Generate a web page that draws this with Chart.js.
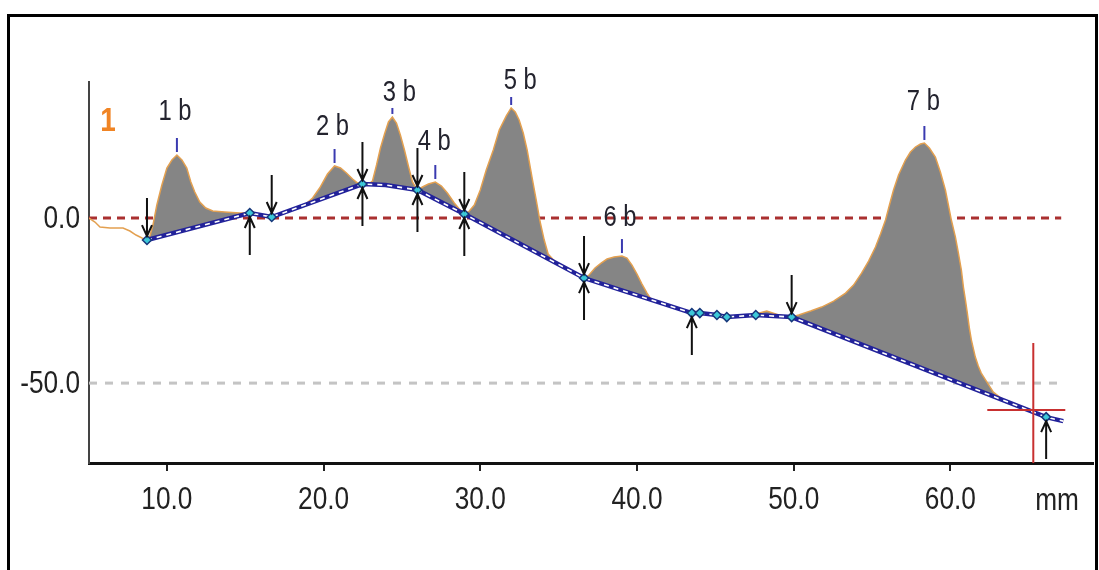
<!DOCTYPE html>
<html><head><meta charset="utf-8">
<script src="https://cdn.jsdelivr.net/npm/chart.js@4.4.1/dist/chart.umd.min.js"></script>
<style>html,body{margin:0;padding:0;background:#fff;}#wrap{width:1099px;height:570px;}</style>
</head><body><div id="wrap"><canvas id="c" width="1099" height="570"></canvas></div>
<script>
// ---- data ----
const xTicks = [10, 20, 30, 40, 50, 60];
const yTicks = [-50, 0];
const xUnit = 'mm';
const seriesName = '1';

const profileX = [5.03,5.41,5.73,6.37,7.20,7.64,8.03,8.41,8.73,8.92,9.11,9.36,9.68,10.0,10.32,10.64,10.96,11.27,11.53,11.78,12.10,12.48,12.93,13.69,14.65,15.29,15.92,16.69,17.83,18.79,19.30,19.75,20.25,20.70,21.08,21.46,21.85,22.17,22.48,22.87,23.12,23.38,23.63,23.89,24.14,24.39,24.65,24.90,25.16,25.41,25.67,25.99,26.31,26.69,27.13,27.52,27.90,28.34,28.66,28.98,29.30,29.62,30.0,30.38,30.83,31.21,31.66,31.97,32.23,32.48,32.74,32.99,33.31,33.57,33.82,34.08,34.33,34.78,35.35,35.99,36.62,36.94,37.32,37.71,38.09,38.54,39.04,39.36,39.68,40.0,40.32,40.64,40.89,41.40,42.04,42.68,43.50,44.59,45.73,46.82,47.58,48.28,49.04,49.87,50.32,51.08,51.78,52.55,53.31,53.82,54.33,54.78,55.22,55.54,55.86,56.11,56.37,56.69,57.13,57.45,57.77,58.09,58.34,58.66,59.04,59.36,59.68,59.87,60.06,60.32,60.51,60.70,60.83,60.96,61.08,61.21,61.34,61.59,61.78,61.97,62.29,62.74,63.38,64.20,64.97,65.61,66.11,66.62,67.20];
const profileY = [0.0,-1.21,-2.73,-3.03,-3.03,-3.94,-5.15,-6.06,-6.67,-5.45,-2.12,3.94,10.0,15.15,17.58,19.09,17.58,15.15,10.91,7.88,4.85,3.03,2.12,1.82,1.52,1.52,1.21,0.30,2.12,3.94,6.06,9.09,13.33,15.76,15.15,13.64,11.82,10.61,10.30,10.30,11.21,16.06,21.21,25.45,29.09,30.61,28.79,25.15,20.61,15.76,10.91,8.48,9.39,10.30,10.91,9.70,7.58,4.55,2.73,1.21,2.12,3.94,8.48,14.55,20.61,26.67,30.91,33.33,32.12,29.70,25.76,20.61,12.12,5.45,-1.21,-6.67,-10.91,-13.33,-14.55,-16.36,-18.18,-17.27,-15.15,-13.64,-12.42,-11.82,-11.52,-12.12,-14.24,-16.97,-20.0,-22.73,-24.55,-25.45,-26.36,-27.58,-28.79,-28.79,-30.0,-29.70,-29.09,-28.18,-29.39,-30.0,-29.39,-28.18,-26.97,-25.15,-22.73,-20.30,-16.67,-13.03,-8.79,-4.85,-0.61,3.94,8.48,13.03,17.58,20.0,21.52,22.42,22.73,21.21,18.48,13.94,8.48,3.94,-0.61,-5.76,-10.61,-15.76,-20.91,-24.85,-28.79,-33.33,-36.97,-42.12,-44.85,-46.97,-49.39,-52.73,-55.15,-56.67,-58.03,-59.24,-60.30,-60.91,-61.52];

const baseX = [8.73,15.29,16.69,22.48,23.95,25.99,28.98,36.62,43.50,44.01,45.10,45.73,47.58,49.87,66.11,67.20];
const baseY = [-6.67,1.52,0.30,10.30,10.0,8.48,1.21,-18.18,-28.79,-28.79,-29.39,-30.0,-29.39,-30.0,-60.30,-61.52];

const markerX = [8.73,15.29,16.69,22.48,25.99,28.98,36.62,43.50,44.01,45.10,45.73,47.58,49.87,66.11];
const markerY = [-6.67,1.52,0.30,10.30,8.48,1.21,-18.18,-28.79,-28.79,-29.39,-30.0,-29.39,-30.0,-60.30];

const arrowDownX = [8.73,16.69,22.48,25.99,28.98,36.62,49.87];
const arrowDownY = [-6.67,0.30,10.30,8.48,1.21,-18.18,-30.0];
const arrowUpX = [15.29,22.48,25.99,28.98,36.62,43.50,66.11];
const arrowUpY = [1.52,10.30,8.48,1.21,-18.18,-28.79,-60.30];

const peakLabels = ['1 b','2 b','3 b','4 b','5 b','6 b','7 b'];
const peakX = [10.64,20.70,24.39,27.13,31.97,39.04,58.34];
const peakY = [19.09,15.76,30.61,10.91,33.33,-11.52,22.73];

const zeroLineX = [5.03, 67.07];
const refLineY = [0, -50];

const cursorX = 65.29;
const cursorY = -58.18;

// ---- chart ----
const FONT = "'Liberation Sans',Arial,sans-serif";
const SX = 0.82;
const pts = (xs, ys) => xs.map((x, i) => ({x, y: ys[i]}));

function narrowText(ctx, text, x, y, size, color, align, weight) {
  ctx.save();
  ctx.font = (weight || 'normal') + ' ' + size + 'px ' + FONT;
  ctx.fillStyle = color;
  ctx.textAlign = align;
  ctx.textBaseline = 'middle';
  ctx.translate(x, y);
  ctx.scale(SX, 1);
  ctx.fillText(text, 0, 0);
  ctx.restore();
}

const overlay = {
  id: 'overlay',
  beforeDraw(chart) {
    const ctx = chart.ctx;
    ctx.save();
    ctx.fillStyle = '#fff';
    ctx.fillRect(0, 0, chart.width, chart.height);
    ctx.strokeStyle = '#000';
    ctx.lineWidth = 3;
    ctx.strokeRect(8.5, 15.5, 1088, 600);
    ctx.restore();
  },
  afterDraw(chart) {
    const ctx = chart.ctx, xs = chart.scales.x, ys = chart.scales.y, a = chart.chartArea;
    xTicks.forEach(v => narrowText(ctx, v.toFixed(1), xs.getPixelForValue(v), a.bottom + 37, 32, '#222', 'center'));
    yTicks.forEach(v => narrowText(ctx, v.toFixed(1), a.left - 9, ys.getPixelForValue(v) + 1, 32, '#222', 'right'));
    narrowText(ctx, xUnit, a.right - 36, a.bottom + 38, 32, '#222', 'center');
  },
  afterDatasetsDraw(chart, args, opts) {
    const ctx = chart.ctx, xs = chart.scales.x, ys = chart.scales.y, a = chart.chartArea;
    ctx.save();
    // arrows
    ctx.strokeStyle = '#111';
    ctx.lineWidth = 2;
    const arrow = (px, py, dir) => {
      const tip = py + dir * 4, tail = py + dir * 42, head = tip + dir * 11;
      ctx.beginPath();
      ctx.moveTo(px, tail); ctx.lineTo(px, tip);
      ctx.moveTo(px - 5, head); ctx.lineTo(px, tip); ctx.lineTo(px + 5, head);
      ctx.stroke();
    };
    arrowDownX.forEach((x, i) => arrow(xs.getPixelForValue(x), ys.getPixelForValue(arrowDownY[i]), -1));
    arrowUpX.forEach((x, i) => arrow(xs.getPixelForValue(x), ys.getPixelForValue(arrowUpY[i]), 1));
    // peak ticks and labels
    peakLabels.forEach((lab, i) => {
      const px = xs.getPixelForValue(peakX[i]), py = ys.getPixelForValue(peakY[i]);
      const o = opts.labelOffsets[i];
      ctx.strokeStyle = '#3a3ab0';
      ctx.lineWidth = 2;
      ctx.beginPath();
      ctx.moveTo(px, py - 3); ctx.lineTo(px, py - 3 - o[2]);
      ctx.stroke();
      narrowText(ctx, lab, px + o[0], py - o[1], 29, '#23232e', 'center');
    });
    // cursor crosshair
    const cx = xs.getPixelForValue(cursorX), cy = ys.getPixelForValue(cursorY);
    ctx.strokeStyle = '#c83030';
    ctx.lineWidth = 2;
    ctx.beginPath();
    ctx.moveTo(cx, cy - 67); ctx.lineTo(cx, a.bottom);
    ctx.moveTo(cx - 46, cy); ctx.lineTo(cx + 32, cy);
    ctx.stroke();
    // series label
    narrowText(ctx, seriesName, a.left + 19, a.top + 40, 34, '#f08424', 'center', 'bold');
    ctx.restore();
  }
};

new Chart(document.getElementById('c'), {
  type: 'line',
  data: {
    datasets: [
      { data: pts(baseX, baseY), borderColor: '#22229a', borderWidth: 4.5, pointRadius: 0, tension: 0, order: 3, fill: false },
      { data: pts(profileX, profileY), borderColor: '#e3a050', borderWidth: 1.5, pointRadius: 0, tension: 0, order: 5,
        fill: { target: 0, above: '#858585', below: 'rgba(0,0,0,0)' } },
      { data: pts(baseX, baseY), borderColor: '#ffffff', borderWidth: 1.6, borderDash: [5, 5], pointRadius: 0, tension: 0, order: 2, fill: false },
      { type: 'scatter', data: pts(markerX, markerY), pointStyle: 'rectRot', pointRadius: 4.5, pointBackgroundColor: '#3cc8d8', pointBorderColor: '#16367a', pointBorderWidth: 1.5, showLine: false, order: 1 },
      { data: pts(zeroLineX, [refLineY[0], refLineY[0]]), borderColor: '#aa3030', borderWidth: 3, borderDash: [8, 6], pointRadius: 0, order: 10, fill: false },
      { data: pts(zeroLineX, [refLineY[1], refLineY[1]]), borderColor: '#c4c4c4', borderWidth: 3, borderDash: [8, 8], pointRadius: 0, order: 10, fill: false }
    ]
  },
  options: {
    responsive: false,
    animation: false,
    devicePixelRatio: 1,
    layout: { padding: { top: 82, right: 4, left: 0, bottom: 0 } },
    plugins: {
      legend: { display: false },
      tooltip: { enabled: false },
      overlay: { labelOffsets: [[-2, 43, 14], [-2, 39, 14], [7, 24, 6], [-1, 40, 14], [9, 27, 8], [-2, 38, 14], [-1, 41, 14]] }
    },
    scales: {
      x: {
        type: 'linear', min: 5.03, max: 69.1,
        afterFit: s => { s.height = 107; },
        afterBuildTicks: s => { s.ticks = xTicks.map(v => ({ value: v })); },
        grid: { display: true, drawOnChartArea: false, drawTicks: true, tickLength: 8, color: '#222', lineWidth: 2 },
        border: { display: true, color: '#111', width: 3 },
        ticks: { display: false }
      },
      y: {
        type: 'linear', min: -74.2, max: 41.2,
        afterFit: s => { s.width = 89; },
        afterBuildTicks: s => { s.ticks = yTicks.map(v => ({ value: v })); },
        grid: { display: false, drawTicks: false },
        border: { display: true, color: '#444', width: 2 },
        ticks: { display: false }
      }
    }
  },
  plugins: [overlay]
});
</script></body></html>
